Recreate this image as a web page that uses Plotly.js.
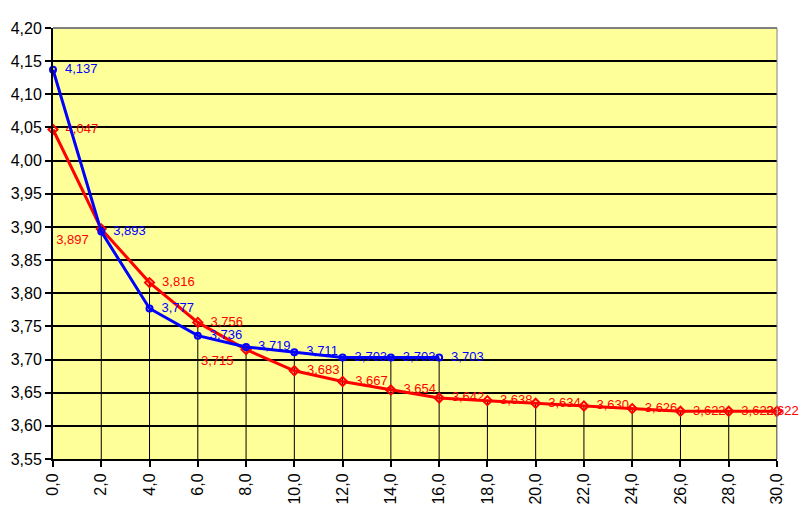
<!DOCTYPE html>
<html><head><meta charset="utf-8">
<script src="https://cdn.plot.ly/plotly-3.0.1.min.js"></script>
<style>html,body{margin:0;padding:0;background:#fff}#chart{width:800px;height:532px}</style>
</head><body><div id="chart"></div>
<script>
const blueX = [0, 2, 4, 6, 8, 10, 12, 14, 16];
const blueY = [4.137, 3.893, 3.777, 3.736, 3.719, 3.711, 3.703, 3.703, 3.703];
const redX = [0, 2, 4, 6, 8, 10, 12, 14, 16, 18, 20, 22, 24, 26, 28, 30];
const redY = [4.047, 3.897, 3.816, 3.756, 3.715, 3.683, 3.667, 3.654, 3.642, 3.638, 3.634, 3.630, 3.626, 3.622, 3.622, 3.622];
const xTicks = [0, 2, 4, 6, 8, 10, 12, 14, 16, 18, 20, 22, 24, 26, 28, 30];
const yTicks = [3.55, 3.60, 3.65, 3.70, 3.75, 3.80, 3.85, 3.90, 3.95, 4.00, 4.05, 4.10, 4.15, 4.20];
const yMin = 3.55, yMax = 4.20;

const fmt = (v, d) => v.toFixed(d).replace('.', ',');

// drop lines from the highest point at each x down to the axis
const dropX = [], dropY = [];
xTicks.forEach(x => {
  const vals = [];
  const bi = blueX.indexOf(x); if (bi >= 0) vals.push(blueY[bi]);
  const ri = redX.indexOf(x); if (ri >= 0) vals.push(redY[ri]);
  if (vals.length && x > 0) { dropX.push(x, x, null); dropY.push(Math.max(...vals), yMin, null); }
});

const lastRed = redY.length - 1;
const redPos = redY.map((v, i) => (i === 1 || i === 4) ? 'bottom left' : (i === lastRed ? 'middle center' : 'middle right'));
const redText = redY.map((v, i) => {
  const s = fmt(v, 3);
  if (i === 1 || i === 4) return s + '  ';
  if (i === lastRed) return '   ' + s;
  return '  ' + s;
});
const bluePos = blueY.map(() => 'middle right');
const blueText = blueY.map(v => '  ' + fmt(v, 3));

const traces = [
  {x: dropX, y: dropY, mode: 'lines', line: {color: '#000', width: 1}, hoverinfo: 'skip', showlegend: false},
  {x: redX, y: redY, mode: 'lines+markers+text', line: {color: '#FF0000', width: 3},
   marker: {symbol: 'diamond-open', size: 7, color: '#FF0000', line: {width: 2}},
   text: redText, textposition: redPos, cliponaxis: false,
   textfont: {family: 'Liberation Sans, Arial, sans-serif', size: 13, color: '#FF0000'}, showlegend: false},
  {x: blueX, y: blueY, mode: 'lines+markers+text', line: {color: '#0000FF', width: 3},
   marker: {symbol: 'circle-open', size: 6, color: '#0000FF', line: {width: 2}},
   text: blueText, textposition: bluePos, cliponaxis: false,
   textfont: {family: 'Liberation Sans, Arial, sans-serif', size: 13, color: '#0000FF'}, showlegend: false}
];

const layout = {
  width: 800, height: 532,
  margin: {l: 53, r: 23, t: 28, b: 73},
  paper_bgcolor: '#FFFFFF', plot_bgcolor: '#FFFF99',
  font: {family: 'Liberation Sans, Arial, sans-serif', size: 16, color: '#000'},
  showlegend: false,
  xaxis: {range: [0, 30], tickvals: xTicks, ticktext: xTicks.map(v => fmt(v, 1)), tickangle: -90,
    showgrid: false, zeroline: false, showline: true, linecolor: '#000', linewidth: 2,
    ticks: 'outside', ticklen: 6, tickwidth: 2, tickcolor: '#000', tickfont: {size: 16}},
  yaxis: {range: [yMin, yMax], tickvals: yTicks, ticktext: yTicks.map(v => fmt(v, 2)),
    showgrid: true, gridcolor: '#000', gridwidth: 2, zeroline: false,
    showline: true, linecolor: '#000', linewidth: 2,
    ticks: 'outside', ticklen: 6, tickwidth: 2, tickcolor: '#000', tickfont: {size: 16}},
  shapes: [
    {type: 'line', xref: 'paper', yref: 'paper', x0: 0, x1: 1, y0: 1, y1: 1, line: {color: '#808080', width: 2}},
    {type: 'line', xref: 'paper', yref: 'paper', x0: 1, x1: 1, y0: 0, y1: 1, line: {color: '#808080', width: 1}}
  ]
};
Plotly.newPlot('chart', traces, layout, {staticPlot: true});
</script></body></html>
